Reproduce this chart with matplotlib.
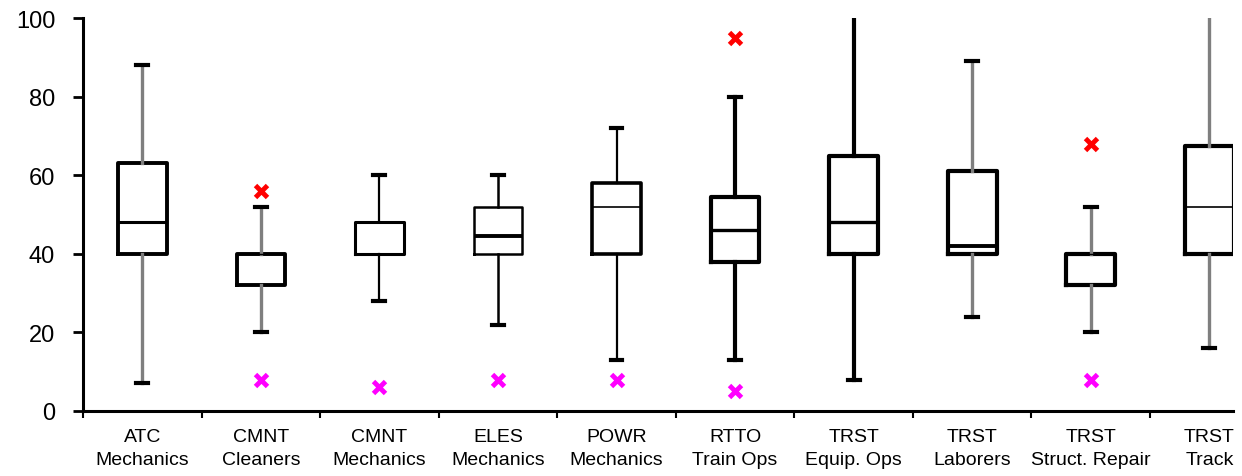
import matplotlib
matplotlib.use("Agg")
import matplotlib.pyplot as plt
from matplotlib.ticker import FixedLocator, NullFormatter

categories = ["ATC\nMechanics", "CMNT\nCleaners", "CMNT\nMechanics", "ELES\nMechanics",
              "POWR\nMechanics", "RTTO\nTrain Ops", "TRST\nEquip. Ops", "TRST\nLaborers",
              "TRST\nStruct. Repair", "TRST\nTrack"]
whisker_low = [7, 20, 28, 22, 13, 13, 8, 24, 20, 16]
q1 = [40, 32, 40, 40, 40, 38, 40, 40, 32, 40]
median = [48, 40, 40, 44.5, 52, 46, 48, 42, 40, 52]
q3 = [63, 40, 48, 52, 58, 54.5, 65, 61, 40, 67.5]
whisker_high = [88, 52, 60, 60, 72, 80, 101, 89, 52, 101]
outlier_high = [None, 56, None, None, None, 95, None, None, 68, None]
outlier_low = [None, 8, 6, 8, 8, 5, None, None, 8, None]

# styles
box_lw = [2.8, 2.8, 2.2, 1.8, 2.6, 3.0, 3.0, 3.0, 3.0, 3.0]
med_lw = [2.2, 1.0, 1.0, 2.8, 1.2, 2.4, 2.4, 2.8, 1.0, 1.2]
whisk_col = ["#7f7f7f", "#7f7f7f", "black", "black", "black", "black", "black",
             "#7f7f7f", "#7f7f7f", "#7f7f7f"]
whisk_lw = [2.4, 2.4, 1.6, 1.8, 1.6, 3.0, 3.0, 2.4, 2.4, 2.4]

plt.rcParams['font.family'] = ['Liberation Sans', 'DejaVu Sans']

fig = plt.figure(figsize=(12.42, 4.77), dpi=100)
ax = fig.add_axes([0.0668, 0.1363, 0.926, 0.8237])

for i in range(len(categories)):
    st = dict(med=median[i], q1=q1[i], q3=q3[i], whislo=whisker_low[i],
              whishi=whisker_high[i], fliers=[])
    ax.bxp([st], positions=[i], widths=0.41, showfliers=False,
           boxprops=dict(color="black", linewidth=box_lw[i]),
           medianprops=dict(color="black", linewidth=med_lw[i]),
           whiskerprops=dict(color=whisk_col[i], linewidth=whisk_lw[i]),
           capprops=dict(color="black", linewidth=3.0),
           capwidths=0.1, manage_ticks=False)
    if outlier_high[i] is not None:
        ax.plot(i, outlier_high[i], marker="x", color="#ff0000", ms=8, mew=3.5, clip_on=False)
    if outlier_low[i] is not None:
        ax.plot(i, outlier_low[i], marker="x", color="#ff00ff", ms=8, mew=3.5, clip_on=False)

ax.set_xlim(-0.5, 9.2)
ax.set_ylim(0, 100)
ax.set_yticks([0, 20, 40, 60, 80, 100])
ax.set_yticklabels(["0", "20", "40", "60", "80", "100"])
ax.tick_params(axis="y", labelsize=17, length=7, width=2, pad=13)

ax.xaxis.set_major_locator(FixedLocator([i - 0.5 for i in range(len(categories))]))
ax.xaxis.set_major_formatter(NullFormatter())
ax.xaxis.set_minor_locator(FixedLocator(list(range(len(categories)))))
ax.set_xticklabels(categories, minor=True, linespacing=1.45)
ax.tick_params(axis="x", which="major", length=5, width=1.5)
ax.tick_params(axis="x", which="minor", length=0, labelsize=14, pad=12)

for s in ["top", "right"]:
    ax.spines[s].set_visible(False)
for s in ["left", "bottom"]:
    ax.spines[s].set_linewidth(2.2)

fig.savefig("out.png", dpi=100)
